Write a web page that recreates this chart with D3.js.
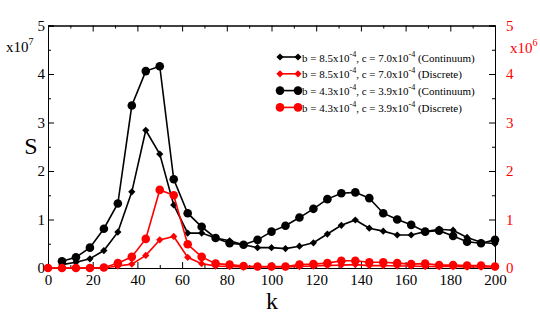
<!DOCTYPE html>
<html>
<head>
<meta charset="utf-8">
<script src="https://cdn.jsdelivr.net/npm/d3@7"></script>
<style>
  body { margin: 0; background: #fff; }
  svg { display: block; }
  svg text { font-family: "Liberation Serif", "Times New Roman", Times, "DejaVu Serif", serif; }
</style>
</head>
<body>
<svg id="chart" width="540" height="324"></svg>
<script>
// k values (x axis)
var kValues = [0, 6.25, 12.5, 18.75, 25, 31.25, 37.5, 43.75, 50, 56.25, 62.5, 68.75, 75, 81.25,
  87.5, 93.75, 100, 106.25, 112.5, 118.75, 125, 131.25, 137.5, 143.75, 150, 156.25, 162.5,
  168.75, 175, 181.25, 187.5, 193.75, 200];

// continuum series, units of 1e7 (left axis); first point (k=0) not drawn
var contB85 = [null, 0.07, 0.12, 0.19, 0.36, 0.74, 1.57, 2.84, 2.35, 1.30, 0.72, 0.72, 0.62, 0.56,
  0.48, 0.42, 0.42, 0.40, 0.45, 0.52, 0.70, 0.88, 0.99, 0.82, 0.76, 0.68, 0.68,
  0.75, 0.80, 0.78, 0.63, 0.53, 0.50];
var contB43 = [null, 0.14, 0.22, 0.42, 0.81, 1.33, 3.35, 4.06, 4.16, 1.83, 1.13, 0.85, 0.62, 0.51,
  0.48, 0.58, 0.75, 0.87, 1.04, 1.22, 1.42, 1.54, 1.56, 1.44, 1.13, 1.00, 0.89,
  0.75, 0.77, 0.66, 0.54, 0.51, 0.58];

// discrete series, units of 1e6 (right axis)
var discB85 = [0, 0, 0, 0, 0, 0.04, 0.08, 0.26, 0.58, 0.65, 0.22, 0.09, 0.04, 0.03,
  0.02, 0.02, 0.02, 0.02, 0.03, 0.04, 0.05, 0.06, 0.07, 0.05, 0.05, 0.04, 0.04,
  0.03, 0.03, 0.03, 0.02, 0.02, 0.02];
var discB43 = [0, 0, 0, 0, 0.01, 0.10, 0.23, 0.60, 1.61, 1.50, 0.49, 0.23, 0.09, 0.07,
  0.04, 0.03, 0.03, 0.03, 0.07, 0.08, 0.10, 0.15, 0.15, 0.12, 0.12, 0.10, 0.08,
  0.09, 0.06, 0.06, 0.05, 0.05, 0.03];

var xTicks = [0, 20, 40, 60, 80, 100, 120, 140, 160, 180, 200];
var yTicks = [0, 1, 2, 3, 4, 5];

var seriesList = [
  { name: 'b85c', values: contB85, axis: 'left', color: '#000', marker: 'diamond',
    b: '8.5', c: '7.0', kind: 'Continuum' },
  { name: 'b85d', values: discB85, axis: 'right', color: '#ff0000', marker: 'diamond',
    b: '8.5', c: '7.0', kind: 'Discrete' },
  { name: 'b43c', values: contB43, axis: 'left', color: '#000', marker: 'circle',
    b: '4.3', c: '3.9', kind: 'Continuum' },
  { name: 'b43d', values: discB43, axis: 'right', color: '#ff0000', marker: 'circle',
    b: '4.3', c: '3.9', kind: 'Discrete' }
];

var margin = { left: 48, right: 45, top: 25.5, bottom: 56 };
var width = 540, height = 324;
var svg = d3.select('#chart');

var x = d3.scaleLinear().domain([0, 200]).range([margin.left, width - margin.right]);
var yL = d3.scaleLinear().domain([0, 5]).range([height - margin.bottom, margin.top]);
var yR = d3.scaleLinear().domain([0, 5]).range([height - margin.bottom, margin.top]);

var minorX = [10, 30, 50, 70, 90, 110, 130, 150, 170, 190];
var minorY = [0.5, 1.5, 2.5, 3.5, 4.5];

function styleAxis(g) {
  g.selectAll('path').attr('stroke', '#000').attr('stroke-width', 1);
  g.selectAll('line').attr('stroke', '#000').attr('stroke-width', 1);
  g.selectAll('text').attr('font-size', 15).attr('font-family', null);
}

var yB = height - margin.bottom, yT = margin.top, xLft = margin.left, xRgt = width - margin.right;

// minor ticks
svg.append('g').attr('transform', 'translate(0,' + yB + ')')
  .call(d3.axisBottom(x).tickValues(minorX).tickSize(-3).tickFormat(''))
  .call(styleAxis);
svg.append('g').attr('transform', 'translate(0,' + yT + ')')
  .call(d3.axisTop(x).tickValues(minorX).tickSize(-3).tickFormat(''))
  .call(styleAxis);
svg.append('g').attr('transform', 'translate(' + xLft + ',0)')
  .call(d3.axisLeft(yL).tickValues(minorY).tickSize(-3).tickFormat(''))
  .call(styleAxis);
svg.append('g').attr('transform', 'translate(' + xRgt + ',0)')
  .call(d3.axisRight(yR).tickValues(minorY).tickSize(-3).tickFormat(''))
  .call(styleAxis);

// major ticks
svg.append('g').attr('transform', 'translate(0,' + yB + ')')
  .call(d3.axisBottom(x).tickValues(xTicks).tickSize(-6).tickPadding(6).tickFormat(d3.format('d')))
  .call(styleAxis);
svg.append('g').attr('transform', 'translate(0,' + yT + ')')
  .call(d3.axisTop(x).tickValues(xTicks).tickSize(-6).tickFormat(''))
  .call(styleAxis);
svg.append('g').attr('transform', 'translate(' + xLft + ',0)')
  .call(d3.axisLeft(yL).tickValues(yTicks).tickSize(-6).tickPadding(3).tickFormat(d3.format('d')))
  .call(styleAxis);
var rAxis = svg.append('g').attr('transform', 'translate(' + xRgt + ',0)')
  .call(d3.axisRight(yR).tickValues(yTicks).tickSize(-6).tickPadding(11).tickFormat(d3.format('d')))
  .call(styleAxis);
rAxis.selectAll('text').attr('fill', '#ff0000');

// diamond = square turned 45 degrees
var square = d3.symbol().type(d3.symbolSquare).size(26);

function addMarker(g, s, px, py) {
  if (s.marker == 'circle') {
    g.append('circle').attr('cx', px).attr('cy', py).attr('r', 4.3).attr('fill', s.color);
  } else {
    g.append('path').attr('d', square)
      .attr('transform', 'translate(' + px + ',' + py + ') rotate(45)')
      .attr('fill', s.color);
  }
}

seriesList.forEach(function(s) {
  var y = s.axis == 'left' ? yL : yR;
  var pts = kValues.map(function(k, i) { return { k: k, v: s.values[i] }; })
    .filter(function(d) { return d.v != null; });

  var line = d3.line()
    .x(function(d) { return x(d.k); })
    .y(function(d) { return y(d.v); });

  var g = svg.append('g');
  g.append('path')
    .datum(pts)
    .attr('fill', 'none')
    .attr('stroke', s.color)
    .attr('stroke-width', 1.6)
    .attr('d', line);

  pts.forEach(function(d) { addMarker(g, s, x(d.k), y(d.v)); });
});

// axis titles
svg.append('text').attr('x', 31).attr('y', 154).attr('text-anchor', 'middle')
  .attr('font-size', 24).text('S');
svg.append('text').attr('x', 272).attr('y', 309).attr('text-anchor', 'middle')
  .attr('font-size', 24).text('k');

var expL = svg.append('text').attr('x', 6).attr('y', 52).attr('font-size', 15);
expL.append('tspan').text('x10');
expL.append('tspan').attr('dy', -7).attr('font-size', 10).text('7');

var expR = svg.append('text').attr('x', 510).attr('y', 53).attr('font-size', 15).attr('fill', '#ff0000');
expR.append('tspan').text('x10');
expR.append('tspan').attr('dy', -7).attr('font-size', 10).text('6');

// legend
var legend = svg.append('g').attr('transform', 'translate(280,57)');
seriesList.forEach(function(s, i) {
  var row = legend.append('g').attr('transform', 'translate(0,' + (i * 16.8) + ')');
  row.append('line').attr('x1', 0).attr('x2', 18).attr('y1', 0).attr('y2', 0)
    .attr('stroke', s.color).attr('stroke-width', 1.6);
  addMarker(row, s, 0, 0);
  addMarker(row, s, 18, 0);
  var t = row.append('text').attr('x', 22).attr('y', 4.5).attr('font-size', 11);
  t.append('tspan').text('b = ' + s.b + 'x10');
  t.append('tspan').attr('dy', -5).attr('font-size', 8).text('-4');
  t.append('tspan').attr('dy', 5).text(', c = ' + s.c + 'x10');
  t.append('tspan').attr('dy', -5).attr('font-size', 8).text('-4');
  t.append('tspan').attr('dy', 5).text(' (' + s.kind + ')');
});
</script>
</body>
</html>
